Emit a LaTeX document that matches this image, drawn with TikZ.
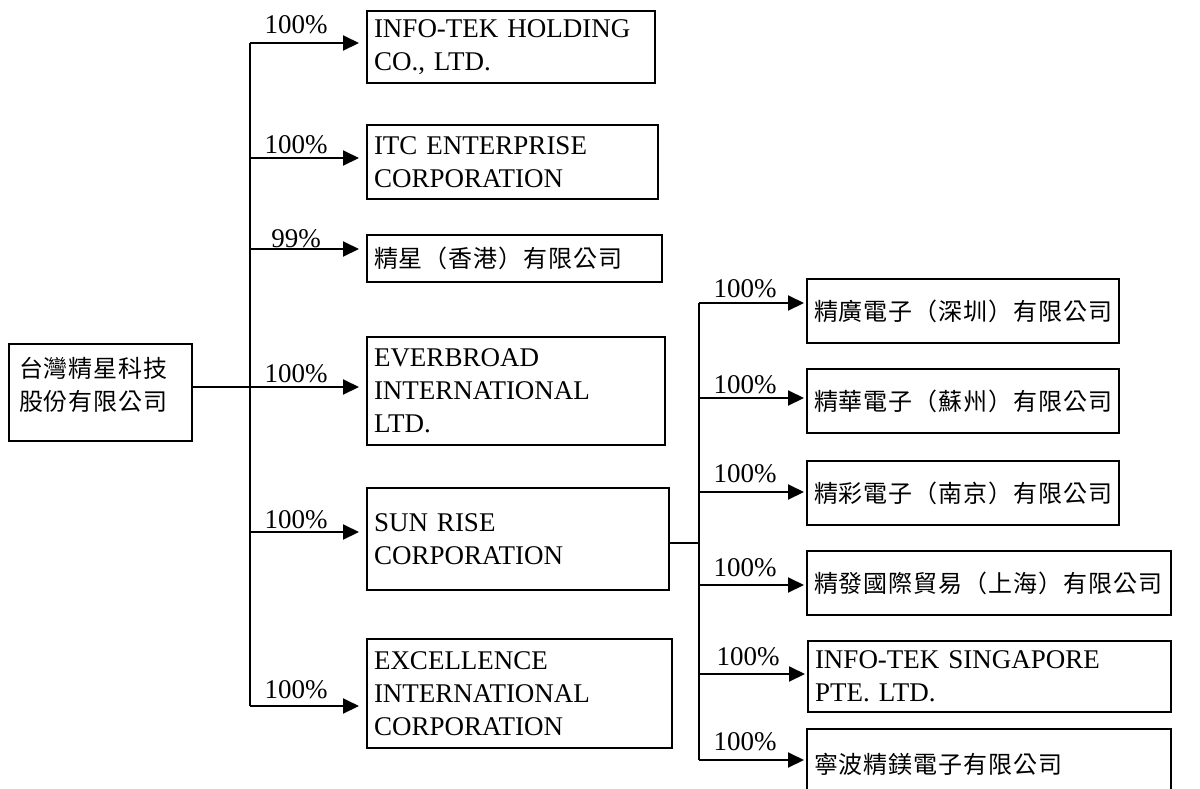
\documentclass[tikz,border=0pt]{standalone}
\usepackage{fontspec}
\setmainfont{Liberation Serif}
\newfontfamily\cjk[LetterSpace=4]{Noto Sans CJK TC}
\usetikzlibrary{arrows.meta}
\tikzset{
  box/.style={draw, line width=1pt, rectangle, inner xsep=3.5pt, inner ysep=0pt,
    align=left, anchor=north west, font=\fontsize{13.5}{16.5}\selectfont},
  cbox/.style={box, font=\cjk\fontsize{12}{16.5}\selectfont},
  lbl/.style={anchor=base, inner sep=0pt, font=\fontsize{13.5}{16.5}\selectfont},
  link/.style={line width=1pt},
  arr/.style={line width=1pt, -{Triangle[length=8pt,width=7.5pt]}},
}
\begin{document}
\begin{tikzpicture}[x=0.5pt,y=-0.5pt]
\useasboundingbox (0,0) rectangle (1200,788);
% parent
\node[cbox, inner xsep=5pt, text width=81.5pt, minimum height=48.5pt] (p) at (8,343) {台灣精星科技\\股份有限公司\par\vspace{8pt}\hrule height 0pt};
% first level boxes
\node[box, text width=137pt, minimum height=36pt] (b1) at (366,10) {INFO-TEK HOLDING\\CO., LTD.};
\node[box, text width=138.5pt, minimum height=37pt] (b2) at (366,124) {ITC ENTERPRISE\\CORPORATION};
\node[cbox, text width=140.5pt, minimum height=23.5pt] (b3) at (366,234) {精星（香港）有限公司};
\node[box, text width=142pt, minimum height=54pt] (b4) at (366,336) {EVERBROAD\\INTERNATIONAL\\LTD.};
\node[box, text width=144pt, minimum height=51pt] (b5) at (366,487) {SUN RISE\\CORPORATION};
\node[box, text width=145.5pt, minimum height=54.5pt] (b6) at (366,638) {EXCELLENCE\\INTERNATIONAL\\CORPORATION};
% second level boxes
\node[cbox, text width=149pt, minimum height=32pt] (s1) at (806,278) {精廣電子（深圳）有限公司};
\node[cbox, text width=149pt, minimum height=32pt] (s2) at (806,368) {精華電子（蘇州）有限公司};
\node[cbox, text width=149pt, minimum height=32pt] (s3) at (806,460) {精彩電子（南京）有限公司};
\node[cbox, text width=175pt, minimum height=32pt] (s4) at (806,550) {精發國際貿易（上海）有限公司};
\node[box, text width=174.5pt, minimum height=35.5pt] (s5) at (807,640) {INFO-TEK SINGAPORE\\PTE. LTD.};
\node[cbox, text width=175pt, minimum height=35pt] (s6) at (806,728) {寧波精鎂電子有限公司};
% main trunk
\coordinate (t1) at (250,43);
\coordinate (t2) at (250,158);
\coordinate (t3) at (250,249);
\coordinate (t4) at (250,387);
\coordinate (t5) at (250,532);
\coordinate (t6) at (250,706);
\draw[link] (t1) -- (t6);
\draw[link] (p.east |- t4) -- (t4);
\foreach \i in {1,...,6}{
  \draw[arr, shorten >=3.5pt] (t\i) -- (t\i -| b\i.west);
}
% sub trunk
\coordinate (u0) at (699,543);
\coordinate (u1) at (699,303);
\coordinate (u2) at (699,398);
\coordinate (u3) at (699,492);
\coordinate (u4) at (699,585);
\coordinate (u5) at (699,674);
\coordinate (u6) at (699,760);
\draw[link] (b5.east |- u0) -- (u0);
\draw[link] (u1) -- (u6);
\foreach \i in {1,...,6}{
  \draw[arr, shorten >=1pt] (u\i) -- (u\i -| s\i.west);
}
% labels
\node[lbl] (l1) at (296,33) {100\%};
\node[lbl] (l2) at (296,153) {100\%};
\node[lbl] (l3) at (296,247) {99\%};
\node[lbl] (l4) at (296,382) {100\%};
\node[lbl] (l5) at (296,528) {100\%};
\node[lbl] (l6) at (296,698) {100\%};
\node[lbl] (m1) at (745,297) {100\%};
\node[lbl] (m2) at (745,393) {100\%};
\node[lbl] (m3) at (745,482) {100\%};
\node[lbl] (m4) at (745,576) {100\%};
\node[lbl] (m5) at (748,665) {100\%};
\node[lbl] (m6) at (745,750) {100\%};
\end{tikzpicture}
\end{document}
